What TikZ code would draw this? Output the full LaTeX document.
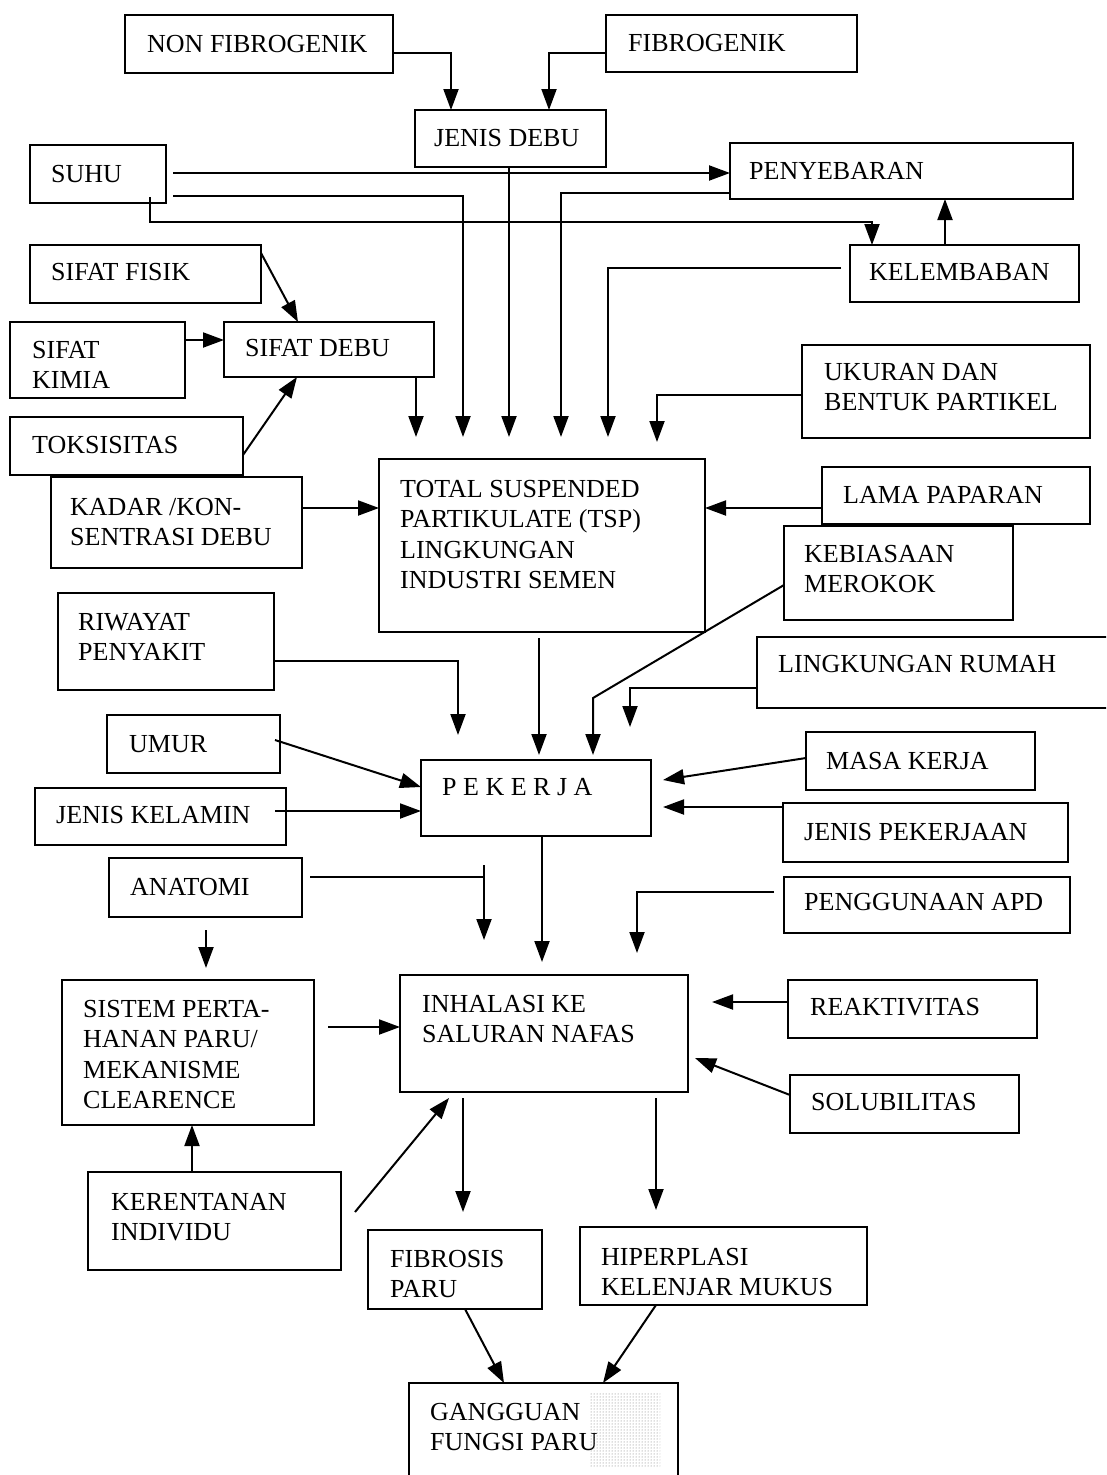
\documentclass[tikz,border=0pt]{standalone}
\usepackage{fontspec}
\setmainfont{Liberation Serif}
\usetikzlibrary{arrows.meta,calc,fit,patterns}
\newcommand{\txtl}[1]{\begin{tabular}[t]{@{}l@{}}#1\end{tabular}}
\newcommand{\bxnode}[8]{%
  \node[bx, fit={(#2,#3) (#4,#5)}] (#1) {};
  \node[lbl] (#1-t) at (#6,#7) {\txtl{#8}};}
\begin{document}
\begin{tikzpicture}[x=1pt,y=-1pt,
  bx/.style={draw, line width=2.6pt, inner sep=0pt, outer sep=0pt},
  lbl/.style={anchor=base west, inner sep=0pt, font=\fontsize{26}{30.5}\selectfont},
  con/.style={line width=2pt},
  arr/.style={con, -{Triangle[length=21pt,width=15pt]}}]
\useasboundingbox (0,0) rectangle (1106,1475);
\clip (0,0) rectangle (1106,1475);
\fill[white] (0,0) rectangle (1106,1475);

% boxes
\bxnode{nf}{125}{15}{393}{73}{147}{52}{NON FIBROGENIK}
\bxnode{fg}{606}{15}{857}{72}{628}{51}{FIBROGENIK}
\bxnode{jd}{415}{110}{606}{167}{434}{146}{JENIS DEBU}
\bxnode{suhu}{30}{145}{166}{203}{51}{182}{SUHU}
\bxnode{peny}{730}{143}{1073}{199}{749}{179}{PENYEBARAN}
\bxnode{kel}{850}{245}{1079}{302}{869}{280}{KELEMBABAN}
\bxnode{sf}{30}{245}{261}{303}{51}{280}{SIFAT FISIK}
\bxnode{sk}{10}{322}{185}{398}{32}{358}{SIFAT\\KIMIA}
\bxnode{sd}{224}{322}{434}{377}{245}{356}{SIFAT DEBU}
\bxnode{tok}{10}{417}{243}{475}{32}{453}{TOKSISITAS}
\bxnode{uk}{802}{345}{1090}{438}{824}{380}{UKURAN DAN\\BENTUK PARTIKEL}
\bxnode{tsp}{379}{459}{705}{632}{400}{497}{TOTAL SUSPENDED\\PARTIKULATE (TSP)\\LINGKUNGAN\\INDUSTRI SEMEN}
\bxnode{kad}{51}{477}{302}{568}{70}{515}{KADAR /KON-\\SENTRASI DEBU}
\bxnode{lama}{822}{467}{1090}{524}{843}{503}{LAMA PAPARAN}
\bxnode{keb}{784}{526}{1013}{620}{804}{562}{KEBIASAAN\\MEROKOK}
\bxnode{riw}{58}{593}{274}{690}{78}{630}{RIWAYAT\\PENYAKIT}
\bxnode{lr}{757}{637}{1115}{708}{778}{672}{LINGKUNGAN RUMAH}
\bxnode{umur}{107}{715}{280}{773}{129}{752}{UMUR}
\bxnode{pek}{421}{760}{651}{836}{442}{795}{P E K E R J A}
\bxnode{mk}{806}{732}{1035}{790}{826}{769}{MASA KERJA}
\bxnode{jk}{35}{788}{286}{845}{56}{823}{JENIS KELAMIN}
\bxnode{jp}{783}{803}{1068}{862}{804}{840}{JENIS PEKERJAAN}
\bxnode{ana}{109}{858}{302}{917}{130}{895}{ANATOMI}
\bxnode{apd}{784}{877}{1070}{933}{804}{910}{PENGGUNAAN APD}
\bxnode{sis}{62}{980}{314}{1125}{83}{1017}{SISTEM PERTA-\\HANAN PARU/\\MEKANISME\\CLEARENCE}
\bxnode{inh}{400}{975}{688}{1092}{422}{1012}{INHALASI KE\\SALURAN NAFAS}
\bxnode{rea}{788}{980}{1037}{1038}{810}{1015}{REAKTIVITAS}
\bxnode{sol}{790}{1075}{1019}{1133}{811}{1110}{SOLUBILITAS}
\bxnode{ker}{88}{1172}{341}{1270}{111}{1210}{KERENTANAN\\INDIVIDU}
\bxnode{fib}{368}{1230}{542}{1309}{390}{1267}{FIBROSIS\\PARU}
\bxnode{hip}{580}{1227}{867}{1305}{601}{1265}{HIPERPLASI\\KELENJAR MUKUS}
\bxnode{gan}{409}{1383}{678}{1495}{430}{1420}{GANGGUAN\\FUNGSI PARU}

% halftone patch
\fill[pattern=dots, pattern color=black!55] (590,1392) rectangle (660,1467);

% arrow tip coordinates above TSP
\coordinate (t1) at ($(tsp.north -| 416,0)+(0,-22)$);
\coordinate (t2) at ($(tsp.north -| 463,0)+(0,-22)$);
\coordinate (t3) at ($(tsp.north -| 509,0)+(0,-22)$);
\coordinate (t4) at ($(tsp.north -| 561,0)+(0,-22)$);
\coordinate (t5) at ($(tsp.north -| 608,0)+(0,-22)$);
\coordinate (t6) at ($(tsp.north -| 657,0)+(0,-17)$);
% above PEKERJA
\coordinate (p1) at ($(pek.north -| 458,0)+(0,-25)$);
\coordinate (p2) at ($(pek.north -| 539,0)+(0,-5)$);
\coordinate (p3) at ($(pek.north -| 593,0)+(0,-5)$);
\coordinate (p4) at ($(pek.north -| 630,0)+(0,-33)$);
% above INHALASI
\coordinate (i1) at ($(inh.north -| 484,0)+(0,-35)$);
\coordinate (i2) at ($(inh.north -| 542,0)+(0,-13)$);
\coordinate (i3) at ($(inh.north -| 637,0)+(0,-22)$);

% connectors
\draw[arr] (nf.east |- 0,53) -| (jd.north -| 451,0);
\draw[arr] (fg.west |- 0,53) -| (jd.north -| 549,0);
\draw[arr] (suhu.east |- 0,173) ++(7,0) -- (peny.west |- 0,173);
\draw[arr] (suhu.east |- 0,196) ++(7,0) -| (t2);
\draw[arr] (suhu.south -| 150,0) ++(0,-6) -- (150,222) -- (872,222) -- (kel.north -| 872,0);
\draw[arr] (jd.south -| 509,0) -- (t3);
\draw[arr] (peny.west |- 0,193) -| (t4);
\draw[arr] (kel.north -| 945,0) -- (peny.south -| 945,0);
\draw[arr] (kel.west |- 0,268) ++(-9,0) -| (t5);
\draw[arr] (sf.north east |- 0,253) -- (sd.north -| 298,0);
\draw[arr] (sk.east |- 0,340) -- (sd.west |- 0,340);
\draw[arr] (tok.east |- 0,455) -- (sd.south -| 297,0);
\draw[arr] (sd.south -| 416,0) -- (t1);
\draw[arr] (uk.west |- 0,395) -| (t6);
\draw[arr] (kad.east |- 0,508) -- (tsp.west |- 0,508);
\draw[arr] (lama.west |- 0,508) -- (tsp.east |- 0,508);
\draw[arr] (keb.west |- 0,585) -- (593,698) -- (p3);
\draw[arr] (riw.east |- 0,661) -| (p1);
\draw[arr] (tsp.south -| 539,0) ++(0,6) -- (p2);
\draw[arr] (lr.west |- 0,688) -| (p4);
\draw[arr] (umur.east |- 0,740) ++(-5,0) -- (pek.west |- 0,787);
\draw[arr] (jk.east |- 0,811) ++(-11,0) -- (pek.west |- 0,811);
\draw[arr] (mk.west |- 0,758) -- ($(pek.east |- 0,780)+(12,0)$);
\draw[arr] (jp.north west |- 0,807) -- ($(pek.east |- 0,807)+(12,0)$);
\draw[arr] (pek.south -| 542,0) -- (i2);
\draw[arr] (ana.east |- 0,877) ++(8,0) -| (i1);
\draw[con] (i1 |- 0,865) -- (i1 |- 0,877);
\draw[arr] (ana.south -| 206,0) ++(0,13) -- ($(sis.north -| 206,0)+(0,-12)$);
\draw[arr] (apd.west |- 0,892) ++(-10,0) -| (i3);
\draw[arr] (sis.east |- 0,1027) ++(14,0) -- (inh.west |- 0,1027);
\draw[arr] (rea.west |- 0,1002) -- ($(inh.east |- 0,1002)+(24,0)$);
\draw[arr] (sol.west |- 0,1095) -- ($(inh.east |- 0,1058)+(7,0)$);
\draw[arr] (ker.north -| 192,0) -- (sis.south -| 192,0);
\draw[arr] ($(ker.north east |- 0,1212)+(14,0)$) -- ($(inh.south -| 449,0)+(0,6)$);
\draw[arr] ($(inh.south -| 463,0)+(0,6)$) -- ($(fib.north -| 463,0)+(0,-18)$);
\draw[arr] ($(inh.south -| 656,0)+(0,6)$) -- ($(hip.north -| 656,0)+(0,-17)$);
\draw[arr] (fib.south -| 465,0) -- (gan.north -| 504,0);
\draw[arr] (hip.south -| 656,0) -- (gan.north -| 603,0);
\end{tikzpicture}
\end{document}
